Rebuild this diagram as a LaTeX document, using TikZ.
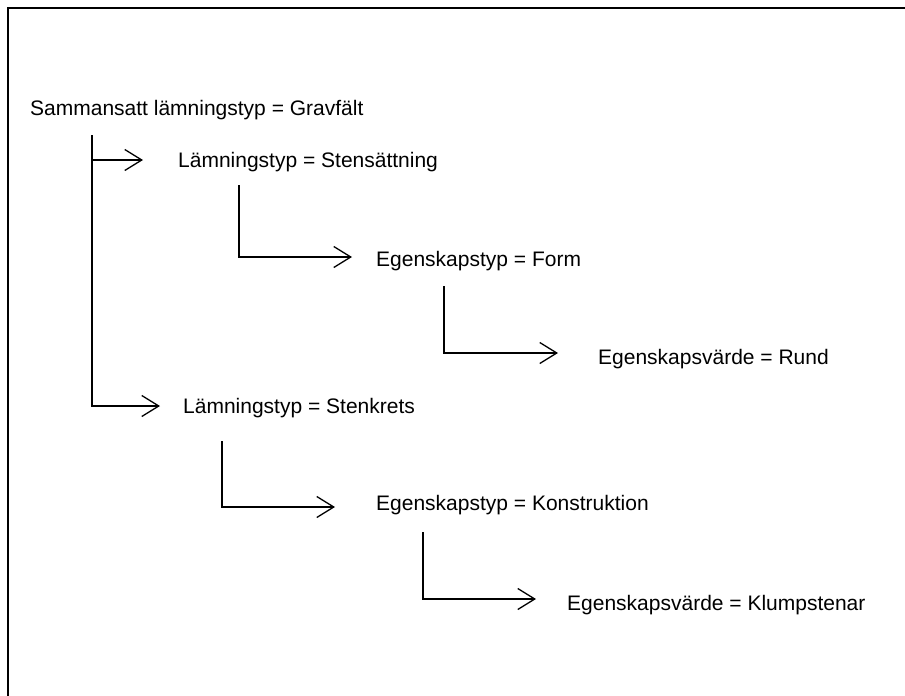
\documentclass[tikz,border=0pt]{standalone}
\usepackage{fontspec}
\setmainfont{Liberation Sans}
\usetikzlibrary{arrows.meta}
\begin{document}
\begin{tikzpicture}[x=1pt,y=-1pt,
  lbl/.style={anchor=west,inner sep=0pt,font=\fontsize{21}{25}\selectfont},
  conn/.style={line width=1.3pt,-{Straight Barb[length=17pt,width=21pt,line width=1.3pt]}},
  frame/.style={line width=2pt}]
\useasboundingbox (0,0) rectangle (905,696);
\draw[frame] (8,696) -- (8,7.5) -- (905,7.5);
\node[lbl] (g)  at (30,110)  {Sammansatt lämningstyp = Gravfält};
\node[lbl] (s1) at (178,162) {Lämningstyp = Stensättning};
\node[lbl] (f1) at (376,261) {Egenskapstyp = Form};
\node[lbl] (r1) at (598,359) {Egenskapsvärde = Rund};
\node[lbl] (s2) at (183,408) {Lämningstyp = Stenkrets};
\node[lbl] (f2) at (376,505) {Egenskapstyp = Konstruktion};
\node[lbl] (r2) at (567,605) {Egenskapsvärde = Klumpstenar};
% coordinates
\coordinate (a0) at (92,135);
\coordinate (a1) at (92,160);
\coordinate (a1e) at (143,160);
\coordinate (a2) at (92,406);
\coordinate (a2e) at (160,406);
\coordinate (b0) at (239,185);
\coordinate (b1) at (239,257);
\coordinate (b1e) at (352,257);
\coordinate (c0) at (444,286);
\coordinate (c1) at (444,353);
\coordinate (c1e) at (558,353);
\coordinate (d0) at (222,441);
\coordinate (d1) at (222,507);
\coordinate (d1e) at (335,507);
\coordinate (e0) at (423,532);
\coordinate (e1) at (423,599);
\coordinate (e1e) at (536,599);
\draw[conn] (a0) -- (a2) -- (a2e);
\draw[conn] (a1) -- (a1e);
\draw[conn] (b0) -- (b1) -- (b1e);
\draw[conn] (c0) -- (c1) -- (c1e);
\draw[conn] (d0) -- (d1) -- (d1e);
\draw[conn] (e0) -- (e1) -- (e1e);
\end{tikzpicture}
\end{document}
